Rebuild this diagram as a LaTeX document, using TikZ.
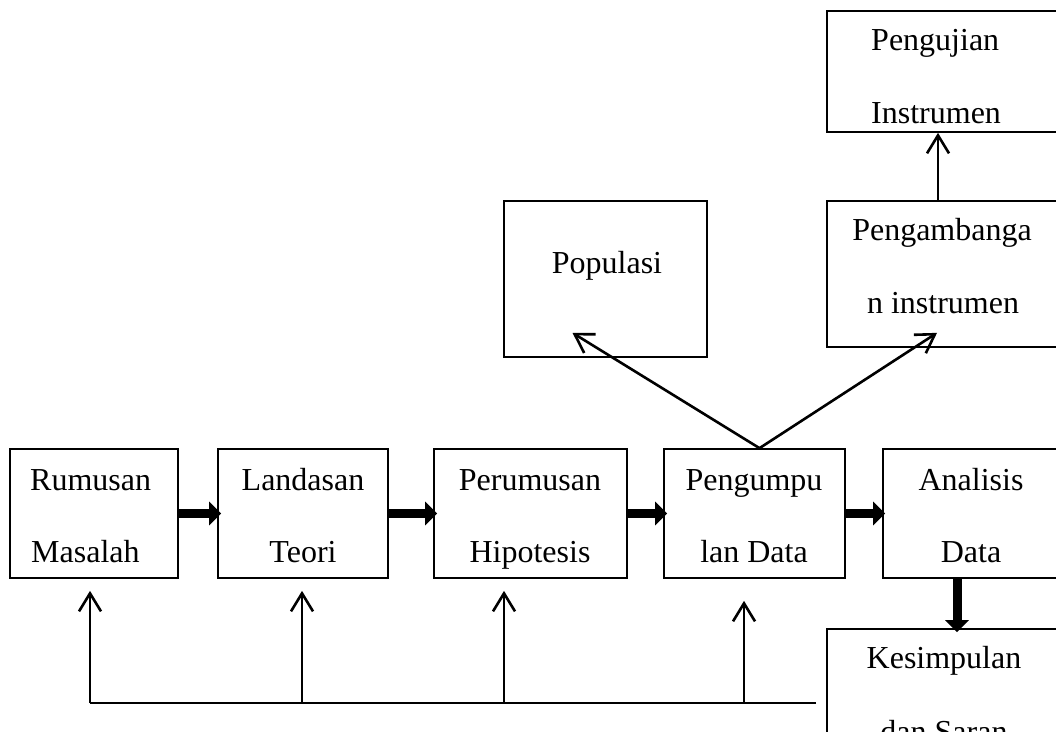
\documentclass[tikz,border=0pt]{standalone}
\usepackage{fontspec}
\setmainfont{Liberation Serif}
\usetikzlibrary{arrows.meta,calc}
\begin{document}
\begin{tikzpicture}[x=1pt,y=-1pt,
  box/.style={draw, line width=1.7pt, inner sep=0pt},
  lbl/.style={anchor=base, inner sep=0pt, font=\fontsize{32}{38}\selectfont},
  lbll/.style={lbl, anchor=base west},
  thinarrow/.style={line width=2.6pt, -{Straight Barb[length=18pt,width=22pt]}},
  fatarrow/.style={line width=9pt, -{Triangle[length=12pt,width=23pt]}},
  fbline/.style={line width=2.6pt}]
\useasboundingbox (0,0) rectangle (1056,731);
\clip (0,0) rectangle (1056,731);

% boxes
\node[box, minimum width=168pt, minimum height=129pt] (rm) at (94,513.5) {};
\node[box, minimum width=170pt, minimum height=129pt] (ld) at (303,513.5) {};
\node[box, minimum width=193pt, minimum height=129pt] (ph) at (530.5,513.5) {};
\node[box, minimum width=181pt, minimum height=129pt] (pg) at (754.5,513.5) {};
\node[box, minimum width=176pt, minimum height=129pt] (an) at (971,513.5) {};
\node[box, minimum width=234pt, minimum height=171pt] (ks) at (944,714.5) {};
\node[box, minimum width=203pt, minimum height=156pt] (pop) at (605.5,279) {};
\node[box, minimum width=230pt, minimum height=146pt] (pe) at (942,274) {};
\node[box, minimum width=230pt, minimum height=121pt] (pj) at (942,71.5) {};

% labels
\node[lbll] (t1a) at (30,490) {Rumusan};
\node[lbll] (t1b) at (31,562) {Masalah};
\node[lbl] (t2a) at (303,490) {Landasan};
\node[lbl] (t2b) at (303,562) {Teori};
\node[lbl] (t3a) at (530,490) {Perumusan};
\node[lbl] (t3b) at (530,562) {Hipotesis};
\node[lbl] (t4a) at (754,490) {Pengumpu};
\node[lbl] (t4b) at (754,562) {lan Data};
\node[lbl] (t5a) at (971,490) {Analisis};
\node[lbl] (t5b) at (971,562) {Data};
\node[lbl] (t6a) at (944,668) {Kesimpulan};
\node[lbl] (t6b) at (944,742) {dan Saran};
\node[lbl] (t7) at (607,273) {Populasi};
\node[lbl] (t8a) at (942,240) {Pengambanga};
\node[lbl] (t8b) at (943,313) {n instrumen};
\node[lbll] (t9a) at (871,50) {Pengujian};
\node[lbll] (t9b) at (871,123) {Instrumen};

% thick arrows
\draw[fatarrow] (rm.east) -- ([xshift=4pt]ld.west);
\draw[fatarrow] (ld.east) -- ([xshift=4pt]ph.west);
\draw[fatarrow] (ph.east) -- ([xshift=4pt]pg.west);
\draw[fatarrow] (pg.east) -- ([xshift=3pt]an.west);
\draw[fatarrow] ($(an.south)+(-14,0)$) coordinate (vt) -- ($(vt |- ks.north)+(0,4)$);

% upper arrows
\coordinate (apex) at ($(pg.north)+(5,0)$);
\draw[thinarrow] (apex) -- ($(pop.south)+(-33,-25)$);
\draw[thinarrow] (apex) -- ($(pe.south)+(-5,-15)$);
\draw[thinarrow] ($(pe.north)+(-4,0)$) -- ($(pj.south)+(-4,0)$);

% feedback line
\coordinate (f1) at (90,703);
\coordinate (f2) at (302,703);
\coordinate (f3) at (504,703);
\coordinate (f4) at (744,703);
\coordinate (fend) at (816,703);
\draw[fbline] (fend) -- (f1);
\draw[thinarrow] (f1) -- ($(f1 |- rm.south)+(0,12)$);
\draw[thinarrow] (f2) -- ($(f2 |- ld.south)+(0,12)$);
\draw[thinarrow] (f3) -- ($(f3 |- ph.south)+(0,12)$);
\draw[thinarrow] (f4) -- ($(f4 |- pg.south)+(0,22)$);
\end{tikzpicture}
\end{document}
